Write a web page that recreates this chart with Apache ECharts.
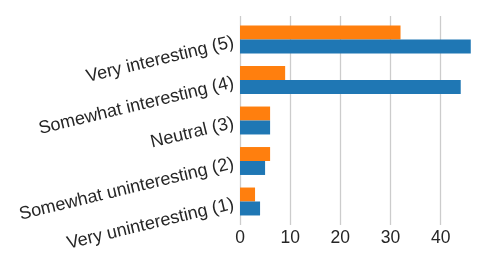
<!DOCTYPE html>
<html>
<head>
<meta charset="utf-8">
<script src="https://cdn.jsdelivr.net/npm/echarts@6/dist/echarts.min.js"></script>
<style>
html,body{margin:0;padding:0;background:#fff;}
#chart{width:499px;height:272px;}
</style>
</head>
<body>
<div id="chart"></div>
<script>
const categories = [
  "Very uninteresting (1)",
  "Somewhat uninteresting (2)",
  "Neutral (3)",
  "Somewhat interesting (4)",
  "Very interesting (5)"
];
const seriesBlue = [4, 5, 6, 44, 46];
const seriesOrange = [3, 6, 6, 9, 32];
const xTicks = [0, 10, 20, 30, 40];

const X_MIN = 0, X_MAX = 48.3;
const FONT = '"Liberation Sans", Arial, Helvetica, sans-serif';
const TEXT = '#262626';

const chart = echarts.init(document.getElementById('chart'), null, {renderer: 'canvas'});
chart.setOption({
  animation: false,
  backgroundColor: '#ffffff',
  grid: [
    {left: 240, right: 16.7, top: 16, bottom: 47},
    {left: 240, right: 16.7, top: 19.25, bottom: 50.25}
  ],
  xAxis: [
    {
      gridIndex: 0, type: 'value', min: X_MIN, max: X_MAX, interval: 10,
      axisLine: {show: false}, axisTick: {show: false},
      splitLine: {show: true, showMaxLine: false, lineStyle: {color: '#cccccc', width: 1.3}},
      axisLabel: {
        color: TEXT, fontFamily: FONT, fontSize: 17.5, margin: 4,
        showMaxLabel: false,
        formatter: v => xTicks.includes(v) ? String(v) : ''
      }
    },
    {
      gridIndex: 1, type: 'value', min: X_MIN, max: X_MAX, show: false,
      splitLine: {show: false}
    }
  ],
  yAxis: [
    {gridIndex: 0, type: 'value', show: false, splitLine: {show: false}},
    {
      gridIndex: 1, type: 'category', data: categories,
      axisLine: {show: false}, axisTick: {show: false},
      splitLine: {show: false},
      axisLabel: {
        color: TEXT, fontFamily: FONT, fontSize: 18, margin: 7,
        rotate: 13.5, verticalAlign: 'top', lineHeight: 5
      }
    }
  ],
  series: [
    {
      name: 'Orange', type: 'bar', xAxisIndex: 1, yAxisIndex: 1,
      data: seriesOrange, itemStyle: {color: '#ff7f0e'},
      barGap: '0%', barCategoryGap: '31%'
    },
    {
      name: 'Blue', type: 'bar', xAxisIndex: 1, yAxisIndex: 1,
      data: seriesBlue, itemStyle: {color: '#1f77b4'},
      barGap: '0%', barCategoryGap: '31%'
    }
  ]
});
</script>
</body>
</html>
